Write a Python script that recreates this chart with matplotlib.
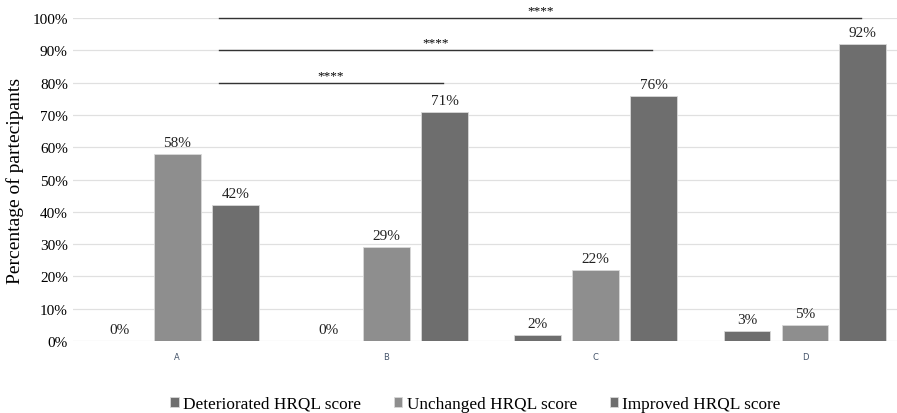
import numpy as np
import matplotlib
matplotlib.use('Agg')
import matplotlib.pyplot as plt

categories = ['A', 'B', 'C', 'D']
deteriorated = [0, 0, 2, 3]
unchanged = [58, 29, 22, 5]
improved = [42, 71, 76, 92]
series_names = ['Deteriorated HRQL score', 'Unchanged HRQL score', 'Improved HRQL score']

# significance brackets: (from group, to group, height, label)
brackets = [(0, 1, 80, '****'), (0, 2, 90, '****'), (0, 3, 100, '****')]

plt.rcParams['font.family'] = ['Liberation Serif', 'DejaVu Serif']

dark = '#6e6e6e'
light = '#8e8e8e'

fig = plt.figure(figsize=(8.97, 4.14), dpi=100)
ax = fig.add_axes([0.081, 0.174, 0.919, 0.78])

x = np.arange(len(categories))
w = 0.224
off = 0.277
all_series = [deteriorated, unchanged, improved]
colors = [dark, light, dark]
for i, (vals, col, name) in enumerate(zip(all_series, colors, series_names)):
    xs = x + (i - 1) * off
    ax.bar(xs, vals, width=w, color=col, edgecolor='#d8d8d8', linewidth=0.6, label=name, zorder=3)
    for xx, v in zip(xs, vals):
        ax.text(xx, v + 1.5, f'{v}%', ha='center', va='bottom', fontsize=11, color='#222222')

ax.set_ylim(0, 100)
ax.set_xlim(-0.5, 3.44)
ax.set_yticks(np.arange(0, 101, 10))
ax.set_yticklabels([f'{t}%' for t in range(0, 101, 10)], fontsize=11)
ax.set_xticks(x)
ax.set_xticklabels(categories, fontsize=6, family='DejaVu Sans', color='#44546a')
ax.tick_params(axis='both', length=0)
ax.tick_params(axis='x', pad=8)
ax.grid(axis='y', color='#e0e0e0', linewidth=0.9, zorder=0)
for s in ax.spines.values():
    s.set_visible(False)
ax.set_ylabel('Percentage of partecipants', fontsize=14, labelpad=6)

for a, b, h, lab in brackets:
    x0 = a + 0.2
    x1 = b + 0.27
    ax.plot([x0, x1], [h, h], color='#333333', linewidth=1.0, clip_on=False, zorder=4)
    ax.text((x0 + x1) / 2, h + 0.5, lab, ha='center', va='bottom', fontsize=9.5)

fig.legend(loc='lower center', bbox_to_anchor=(0.53, -0.035), ncol=3, frameon=False,
           fontsize=12.4, handlelength=0.5, handleheight=0.5, handletextpad=0.25, columnspacing=1.9)

fig.savefig('out.png', dpi=100)
